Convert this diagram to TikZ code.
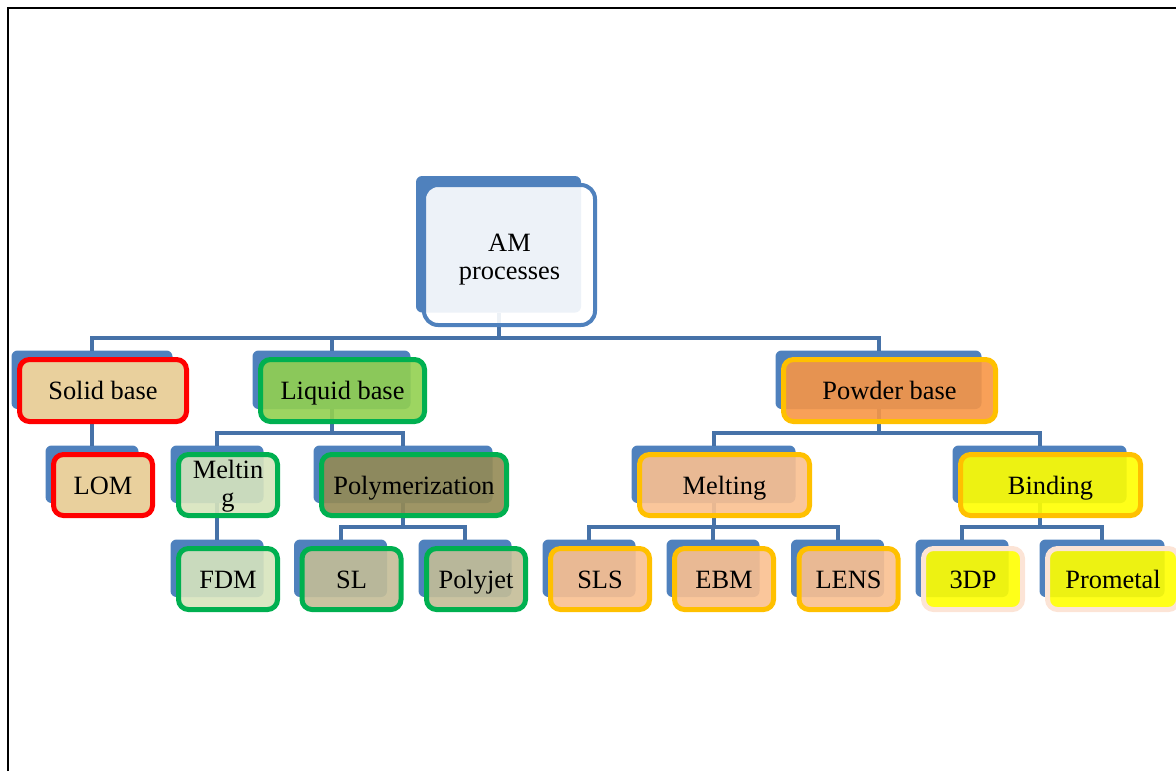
\documentclass[tikz,border=0pt]{standalone}
\usepackage{fontspec}
\setmainfont{Liberation Serif}
\usepackage{xcolor}
\usepackage{tikz}
\usetikzlibrary{backgrounds,fit}

\definecolor{amblue}{HTML}{4F81BD}
\definecolor{connblue}{HTML}{4672A8}
\definecolor{amred}{HTML}{FF0000}
\definecolor{amtan}{HTML}{E9D09D}
\definecolor{amgreen}{HTML}{00B050}
\definecolor{liquidfill}{HTML}{92D050}
\definecolor{meltfill}{HTML}{D7E4BD}
\definecolor{polyfill}{HTML}{948A54}
\definecolor{slfill}{HTML}{C4BD97}
\definecolor{amgold}{HTML}{FFC000}
\definecolor{powderfill}{HTML}{F79646}
\definecolor{meltpfill}{HTML}{FAC090}
\definecolor{bindfill}{HTML}{FFFF00}
\definecolor{ampeach}{HTML}{FCE4D6}

\begin{document}
\begin{tikzpicture}[x=0.5pt, y=-0.5pt,
        ambox/.style={rectangle, rounded corners=5pt, line width=2.5pt, fill opacity=0.9, text opacity=1, inner sep=0pt, outer sep=0pt, align=center, text height=9pt, text depth=0pt, minimum width=49.5pt, minimum height=30.5pt, font=\fontsize{13.2}{14}\selectfont},
        twolines/.style={text height=#1, text depth=3pt},
        rootbox/.style={ambox, twolines=27pt, draw=amblue, fill=white, line width=2pt, rounded corners=7pt, minimum width=85.5pt, minimum height=70pt},
        solidbox/.style={ambox, draw=amred, fill=amtan, fill opacity=1},
        liquidbox/.style={ambox, draw=amgreen, fill=liquidfill},
        meltbox/.style={ambox, draw=amgreen, fill=meltfill},
        polybox/.style={ambox, draw=amgreen, fill=polyfill},
        slbox/.style={ambox, draw=amgreen, fill=slfill},
        powderbox/.style={ambox, draw=amgold, fill=powderfill},
        meltpbox/.style={ambox, draw=amgold, fill=meltpfill},
        bindbox/.style={ambox, draw=amgold, fill=bindfill},
        bindleaf/.style={ambox, draw=ampeach, fill=bindfill},
        backof/.style={rectangle, fill=amblue, draw=none, rounded corners=3pt, inner sep=0pt, outer sep=0pt,
            fit={([shift={(-8,-9)}]#1.north west) ([shift={(-14,-12.5)}]#1.south east)}},
        conn/.style={draw=connblue, line width=2pt}]

        \useasboundingbox (0,0) rectangle (1176,771);
        \draw[line width=1pt] (7.5,771) -- (7.5,7.5) -- (1176,7.5);

        % Root
        \node[rootbox] (am) at (509.5,255) {AM\\processes};

        % Level 1
        \node[solidbox, minimum width=83.5pt, minimum height=31pt] (solid) at (103,390.5) {Solid base};
        \node[liquidbox, minimum width=82pt, minimum height=31pt] (liquid) at (342.5,390.5) {Liquid base};
        \node[powderbox, minimum width=106pt, minimum height=31pt] (powder) at (889.5,390.5) {Powder base};

        % Level 2
        \node[solidbox] (lom) at (103,485) {LOM};
        \node[meltbox, twolines=24.5pt] (meltl) at (228,485) {Meltin\\g};
        \node[polybox, minimum width=92.5pt] (poly) at (414,485) {Polymerization};
        \node[meltpbox, minimum width=85pt] (meltp) at (724.5,485) {Melting};
        \node[bindbox, minimum width=90pt] (binding) at (1050.5,485) {Binding};

        % Level 3
        \node[meltbox] (fdm) at (228,579) {FDM};
        \node[slbox] (sl) at (351.5,579) {SL};
        \node[slbox] (polyjet) at (476,579) {Polyjet};
        \node[meltpbox] (sls) at (600,579) {SLS};
        \node[meltpbox] (ebm) at (724,579) {EBM};
        \node[meltpbox] (lens) at (848.5,579) {LENS};
        \node[bindleaf] (tdp) at (973,579) {3DP};
        \node[bindleaf, minimum width=65.5pt] (prometal) at (1113,579) {Prometal};

        \begin{scope}[on background layer]
        % Blue tabs behind the boxes
        \node[backof=am] (amb) {};
        \node[backof=solid] (solidb) {};
        \node[backof=liquid] (liquidb) {};
        \node[backof=powder] (powderb) {};
        \node[backof=lom] (lomb) {};
        \node[backof=meltl] (meltlb) {};
        \node[backof=poly] (polyb) {};
        \node[backof=meltp] (meltpb) {};
        \node[backof=binding] (bindingb) {};
        \node[backof=fdm] (fdmb) {};
        \node[backof=sl] (slb) {};
        \node[backof=polyjet] (polyjetb) {};
        \node[backof=sls] (slsb) {};
        \node[backof=ebm] (ebmb) {};
        \node[backof=lens] (lensb) {};
        \node[backof=tdp] (tdpb) {};
        \node[backof=prometal] (prometalb) {};

        % Connections
        \draw[conn] (solidb.north) -- ++(0,-12.5) -| (amb.south);
        \draw[conn] (liquidb.north) -- ++(0,-12.5) -| (amb.south);
        \draw[conn] (powderb.north) -- ++(0,-12.5) -| (amb.south);
        \draw[conn] (lomb.north) -- ++(0,-12.5) -| (solidb.south);
        \draw[conn] (meltlb.north) -- ++(0,-12.5) -| (liquidb.south);
        \draw[conn] (polyb.north) -- ++(0,-12.5) -| (liquidb.south);
        \draw[conn] (fdmb.north) -- ++(0,-12.5) -| (meltlb.south);
        \draw[conn] (slb.north) -- ++(0,-12.5) -| (polyb.south);
        \draw[conn] (polyjetb.north) -- ++(0,-12.5) -| (polyb.south);
        \draw[conn] (meltpb.north) -- ++(0,-12.5) -| (powderb.south);
        \draw[conn] (bindingb.north) -- ++(0,-12.5) -| (powderb.south);
        \draw[conn] (slsb.north) -- ++(0,-12.5) -| (meltpb.south);
        \draw[conn] (ebmb.north) -- ++(0,-12.5) -| (meltpb.south);
        \draw[conn] (lensb.north) -- ++(0,-12.5) -| (meltpb.south);
        \draw[conn] (tdpb.north) -- ++(0,-12.5) -| (bindingb.south);
        \draw[conn] (prometalb.north) -- ++(0,-12.5) -| (bindingb.south);
        \end{scope}
    \end{tikzpicture}
\end{document}
